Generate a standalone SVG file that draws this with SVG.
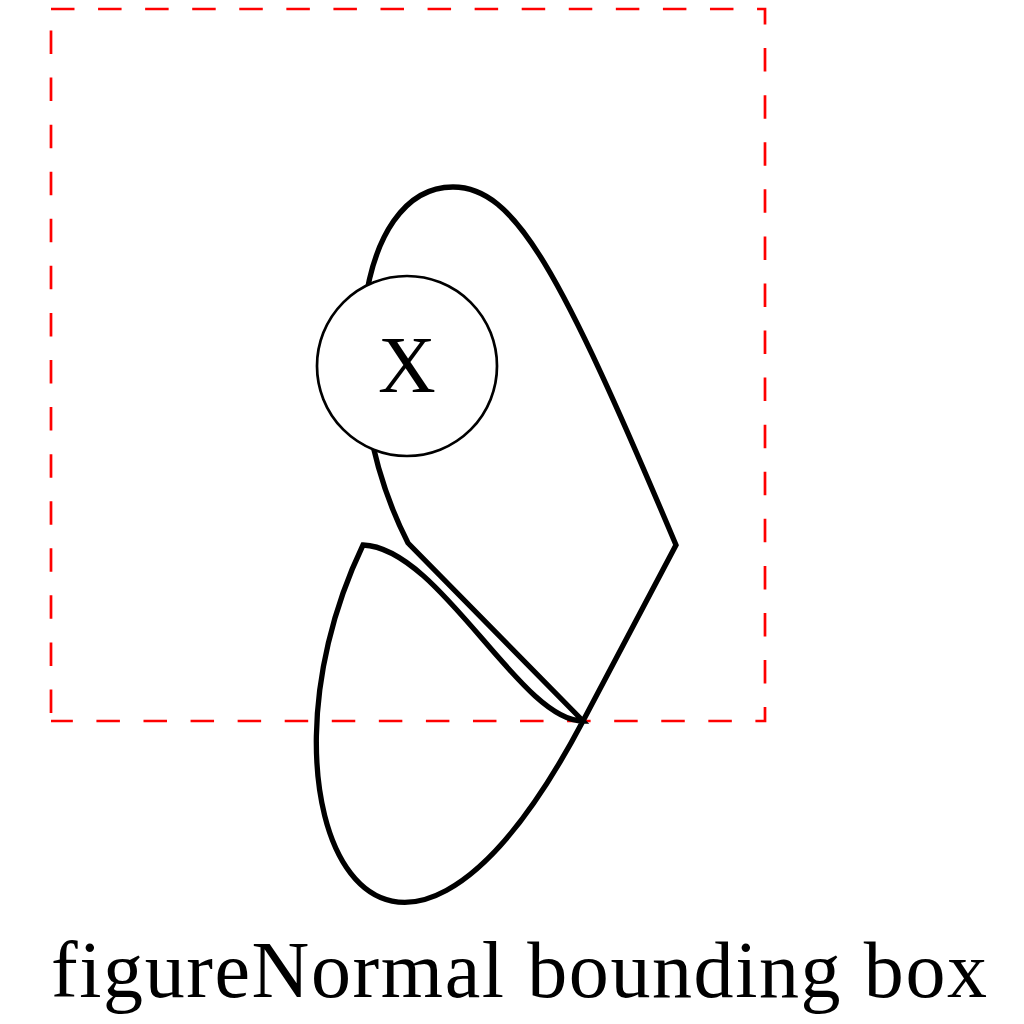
<svg xmlns="http://www.w3.org/2000/svg" width="1024" height="1024" viewBox="0 0 1024 1024">
<style>
.bbox{fill:none;stroke:#ff0000;stroke-width:2.7;stroke-dasharray:23.5 23.57;stroke-linecap:butt}
.curve{fill:none;stroke:#000;stroke-width:5.3;stroke-linejoin:miter;stroke-miterlimit:10}
.node{fill:#fff;stroke:#000;stroke-width:2.7}
.lbl{font-family:"Liberation Serif","DejaVu Serif",serif;fill:#000}
</style>
<rect width="1024" height="1024" fill="#fff"/>
<g id="bounding-box">
<path class="bbox" d="M51,9 H765 V721 H51"/>
<path class="bbox" d="M51,721 V9" stroke-dashoffset="39.07"/>
</g>
<g id="connectors">
<path class="curve" d="M363,545 C440,548 520,721 583,721 L408,543 C330,390 355,187 453,187 C515,187 560,270 676,545 L583,721 C382,1101 238,806 363,545 Z"/>
</g>
<g id="node-X">
<circle class="node" cx="407" cy="366" r="90"/>
<text class="lbl" x="407" y="392" font-size="80" text-anchor="middle">X</text>
</g>
<g id="caption">
<text class="lbl" x="51" y="997" font-size="80" textLength="936" lengthAdjust="spacing">figureNormal bounding box</text>
</g>
</svg>
